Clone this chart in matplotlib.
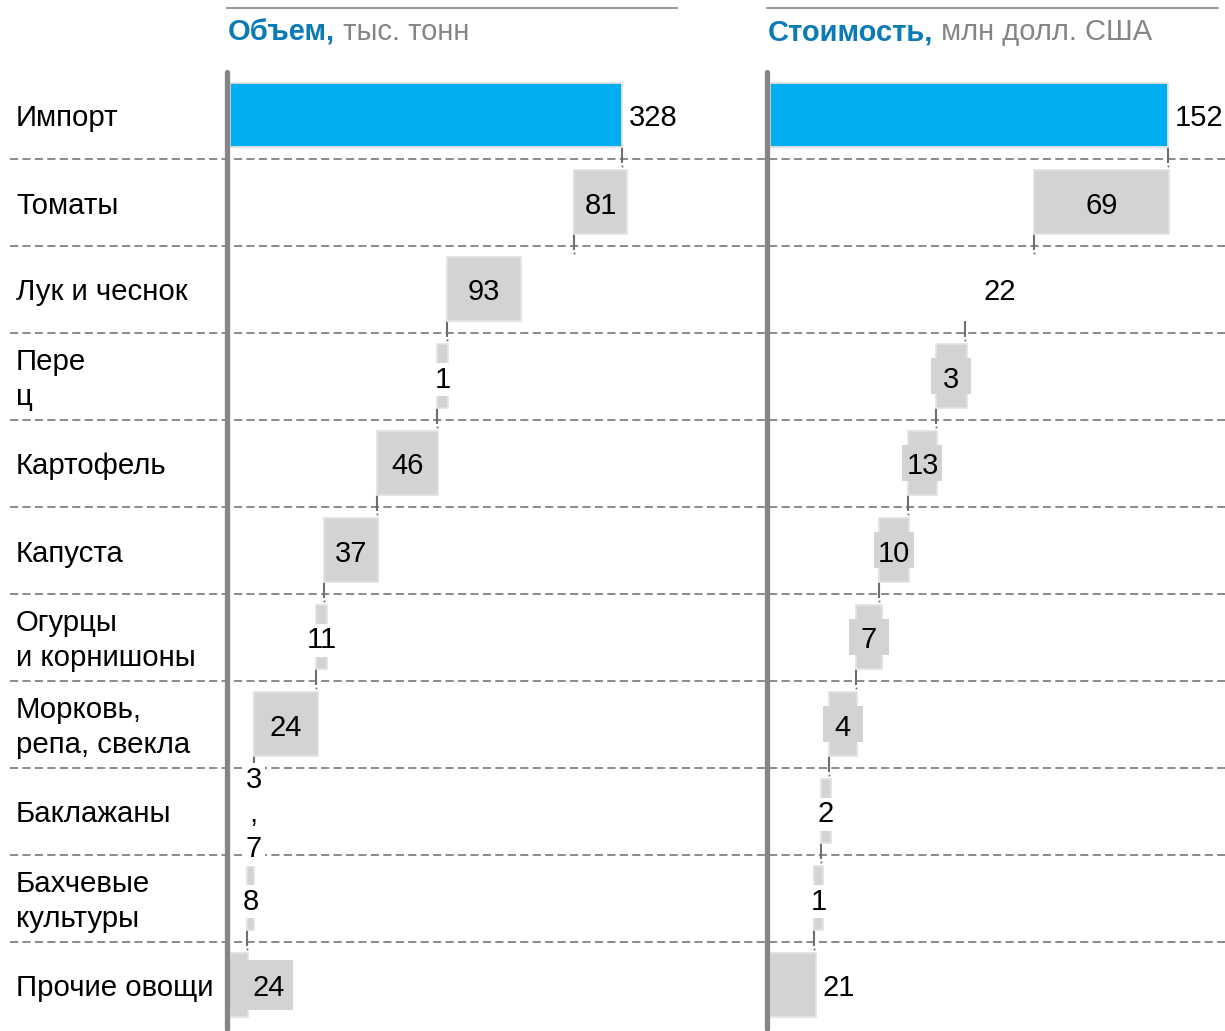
import matplotlib
matplotlib.use('Agg')
import matplotlib.pyplot as plt
from matplotlib.patches import Rectangle
from matplotlib.lines import Line2D
from matplotlib.transforms import blended_transform_factory as btf

plt.rcParams['font.family'] = ['Liberation Sans', 'DejaVu Sans']

# ---------------- data ----------------
categories = ['Импорт', 'Томаты', 'Лук и чеснок', 'Пере\nц', 'Картофель', 'Капуста',
              'Огурцы\nи корнишоны', 'Морковь,\nрепа, свекла', 'Баклажаны',
              'Бахчевые\nкультуры', 'Прочие овощи']

vol_title = 'Объем,'
vol_unit = ' тыс. тонн'
vol_labels = ['328', '81', '93', '1', '46', '37', '11', '24', '3\n,\n7', '8', '24']
vol_start = [0, 288.0, 181.6, 173.2, 123.0, 78.7, 72.0, 20.1, 17.6, 14.2, 0]
vol_end = [328, 332.2, 243.5, 182.4, 174.1, 123.8, 81.2, 73.6, 21.8, 20.1, 15.1]

val_title = 'Стоимость,'
val_unit = ' млн долл. США'
val_labels = ['152', '69', '22', '3', '13', '10', '7', '4', '2', '1', '21']
val_start = [0, 100.8, 74.5, 63.4, 52.7, 41.6, 32.8, 22.5, 19.5, 16.8, 0]
val_end = [152, 152.4, 100.8, 75.2, 63.8, 53.1, 42.8, 33.2, 23.3, 20.2, 17.6]

# ---------------- layout ----------------
W, H, DPI = 1225, 1031, 100
fig = plt.figure(figsize=(W / DPI, H / DPI), dpi=DPI)
n = len(categories)
ROW_TOP, ROW_H = 71.5, 87.0
FS = 21
FS_CAT = 21.2
BLUE = '#00AEEF'
GRAY = '#D3D3D3'
EDGE = '#e3e3e3'
AXGRAY = '#858585'
BAR_H = 0.73
DY = 3.5 / ROW_H   # text vertical nudge (rows)


def px_axes(x0, x1):
    return fig.add_axes([x0 / W, 1 - (ROW_TOP + ROW_H * n) / H, (x1 - x0) / W, ROW_H * n / H])


axL = px_axes(230, 676)
axR = px_axes(770, 1225)
scaleL = 1.195
scaleR = 2.618
axL.set_xlim(0, 446 / scaleL)
axR.set_xlim(0, 455 / scaleR)

for ax in (axL, axR):
    ax.set_ylim(n - 0.5, -0.5)
    ax.set_xticks([])
    ax.set_yticks([])
    for s in ('top', 'right', 'bottom'):
        ax.spines[s].set_visible(False)
    sp = ax.spines['left']
    sp.set_linewidth(3.8)
    sp.set_color(AXGRAY)
    sp.set_position(('outward', 2.2))
    sp.set_capstyle('round')
    sp.set_zorder(6)
    ax.patch.set_alpha(0)

# dashed row separators across the whole width
tr = btf(fig.transFigure, axL.transData)
for i in range(n - 1):
    fig.add_artist(Line2D([10 / W, 1.0], [i + 0.5, i + 0.5], transform=tr,
                          color='#8a8a8a', lw=1.4, dashes=(4.2, 2.2), zorder=0))

# top rules
for x0, x1 in ((227, 677), (767, 1218)):
    fig.add_artist(Line2D([x0 / W, x1 / W], [1 - 7.5 / H] * 2, color='#8f8f8f', lw=1.3))

# category labels
for i, c in enumerate(categories):
    fig.text(16 / W, i + DY, c, transform=tr, ha='left', va='center', fontsize=FS_CAT,
             linespacing=1.3, color='black')


def draw_panel(ax, labels, start, end, scale, last_inside_box):
    ys = list(range(n))
    widths = [e - s for s, e in zip(start, end)]
    colors = []
    edges = []
    for i in range(n):
        if i == 0:
            colors.append(BLUE); edges.append(EDGE)
        elif labels is val_labels and i == 2:
            colors.append('none'); edges.append('none')
        else:
            colors.append(GRAY); edges.append(EDGE)
    ax.barh(ys, widths, left=start, height=BAR_H, color=colors, edgecolor=edges,
            linewidth=1.3, zorder=3)
    # connectors
    for i in range(n - 1):
        x = end[0] if i == 0 else start[i]
        ax.plot([x, x], [i + BAR_H / 2, i + 0.5 + 0.05], color='#6e6e6e', lw=1.5,
                zorder=2, solid_capstyle='butt')
        ax.plot([x], [i + 1 - BAR_H / 2 - 0.05], marker='s', ms=1.3, color='#6e6e6e',
                zorder=2, mec='none')
    # labels
    for i in range(n):
        wpx = widths[i] * scale
        cx = (start[i] + end[i]) / 2
        lab = labels[i]
        ty = i + DY
        if i == 0:
            ax.text(end[i] + 7 / scale, ty, lab, ha='left', va='center', fontsize=FS, zorder=5)
        elif i == n - 1:
            if last_inside_box:
                ax.add_patch(Rectangle((start[i], i - 25 / ROW_H), 63 / scale, 50 / ROW_H,
                                       color=GRAY, zorder=4, lw=0))
                ax.text(start[i] + 39 / scale, ty, lab, ha='center', va='center',
                        fontsize=FS, zorder=5)
            else:
                ax.text(end[i] + 6 / scale, ty, lab, ha='left', va='center',
                        fontsize=FS, zorder=5)
        elif wpx < 15:
            ax.text(cx, ty, lab, ha='center', va='center', fontsize=FS, zorder=5,
                    linespacing=1.3,
                    bbox=dict(boxstyle='square,pad=0.1', fc='white', ec='none'))
        elif wpx < 40:
            ax.add_patch(Rectangle((cx - 20 / scale, i - 18 / ROW_H), 40 / scale, 36 / ROW_H,
                                   color=GRAY, zorder=4, lw=0))
            ax.text(cx, ty, lab, ha='center', va='center', fontsize=FS, zorder=5)
        else:
            ax.text(cx, ty, lab, ha='center', va='center', fontsize=FS, zorder=5)


draw_panel(axL, vol_labels, vol_start, vol_end, scaleL, True)
draw_panel(axR, val_labels, val_start, val_end, scaleR, False)

# titles
fig.canvas.draw()
renderer = fig.canvas.get_renderer()
for x0, title, unit in ((228, vol_title, vol_unit), (768, val_title, val_unit)):
    t = fig.text(x0 / W, 1 - 40 / H, title, fontsize=21, fontweight='bold',
                 color='#0b7bb6', ha='left', va='baseline')
    bb = t.get_window_extent(renderer=renderer)
    fig.text(bb.x1 / W, 1 - 40 / H, unit, fontsize=21, color='#858585',
             ha='left', va='baseline')

fig.savefig('out.png', dpi=DPI)
